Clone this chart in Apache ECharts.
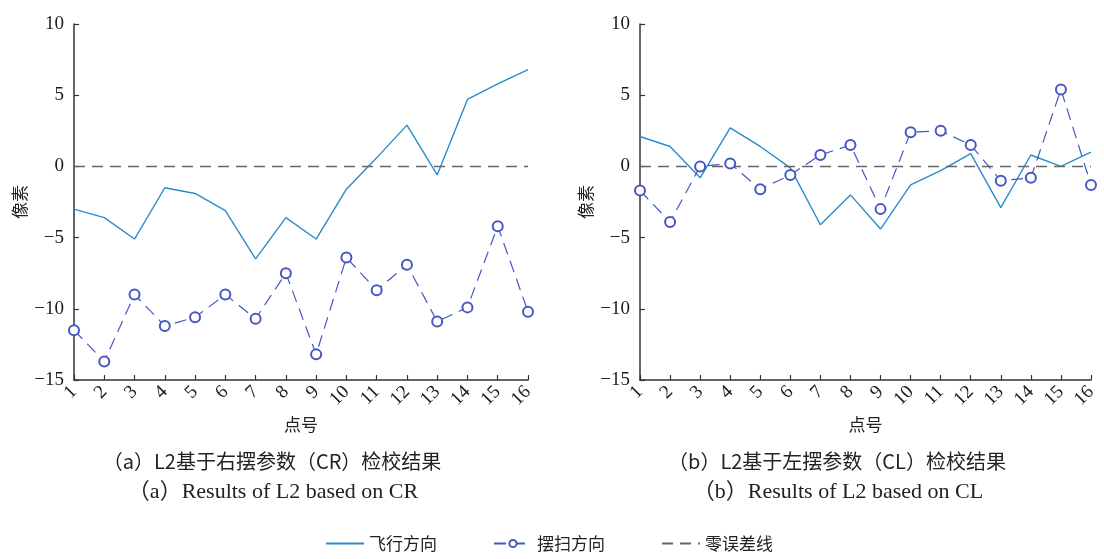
<!DOCTYPE html>
<html>
<head>
<meta charset="utf-8">
<script src="https://cdn.jsdelivr.net/npm/echarts@6/dist/echarts.min.js"></script>
<style>
  html, body { margin: 0; padding: 0; background: #fff; }
  #main { width: 1104px; height: 559px; }
</style>
</head>
<body>
<div id="main"></div>
<script>
// 点号
var pointLabels = ['1', '2', '3', '4', '5', '6', '7', '8', '9', '10', '11', '12', '13', '14', '15', '16'];
// (a) 右摆参数 CR
var flightCR = [-3.0, -3.6, -5.1, -1.5, -1.9, -3.1, -6.5, -3.6, -5.1, -1.6, 0.6, 2.9, -0.6, 4.7, 5.8, 6.8];
var swingCR = [-11.5, -13.7, -9.0, -11.2, -10.6, -9.0, -10.7, -7.5, -13.2, -6.4, -8.7, -6.9, -10.9, -9.9, -4.2, -10.2];
// (b) 左摆参数 CL
var flightCL = [2.1, 1.4, -0.8, 2.7, 1.4, -0.1, -4.1, -2.0, -4.4, -1.3, -0.3, 0.9, -2.9, 0.8, 0.0, 1.0];
var swingCL = [-1.7, -3.9, 0.0, 0.2, -1.6, -0.6, 0.8, 1.5, -3.0, 2.4, 2.5, 1.5, -1.0, -0.8, 5.4, -1.3];
// 零误差线
var zeroLine = [0, 0, 0, 0, 0, 0, 0, 0, 0, 0, 0, 0, 0, 0, 0, 0];

var serifFont = "'Liberation Serif', 'Times New Roman', 'Noto Sans CJK SC', serif";
var cjkFont = "'Noto Sans CJK SC', sans-serif";
var flightColor = '#2b8ccb';
var swingColor = '#4756c4';
var zeroColor = '#666666';

var chart = echarts.init(document.getElementById('main'));

function makeXAxis(idx) {
    return {
        type: 'category',
        gridIndex: idx,
        data: pointLabels,
        boundaryGap: false,
        name: '点号',
        nameLocation: 'middle',
        nameGap: 36,
        nameTextStyle: { fontFamily: cjkFont, fontSize: 17, color: '#222' },
        axisLine: { onZero: false, lineStyle: { color: '#333', width: 1.5 } },
        axisTick: { inside: true, length: 5, interval: 0, lineStyle: { color: '#333', width: 1.2 } },
        axisLabel: { interval: 0, rotate: 45, fontFamily: serifFont, fontSize: 19, color: '#1a1a1a', margin: 9 },
        splitLine: { show: false }
    };
}

function makeYAxis(idx) {
    return {
        type: 'value',
        gridIndex: idx,
        min: -15,
        max: 10,
        interval: 5,
        name: '像素',
        nameLocation: 'middle',
        nameGap: 46,
        nameTextStyle: { fontFamily: cjkFont, fontSize: 17, color: '#222' },
        axisLine: { show: true, lineStyle: { color: '#333', width: 1.5 } },
        axisTick: { show: true, inside: true, length: 5, lineStyle: { color: '#333', width: 1.2 } },
        axisLabel: {
            fontFamily: serifFont, fontSize: 19, color: '#1a1a1a', margin: 10,
            formatter: function (v) { return String(v).replace('-', '\u2212'); }
        },
        splitLine: { show: false }
    };
}

function makeSeries(idx, flight, swing) {
    return [
        {
            name: '飞行方向', type: 'line', xAxisIndex: idx, yAxisIndex: idx,
            data: flight, symbol: 'none',
            lineStyle: { color: flightColor, width: 1.4 },
            itemStyle: { color: flightColor }
        },
        {
            name: '摆扫方向', type: 'line', xAxisIndex: idx, yAxisIndex: idx,
            data: swing, symbol: 'emptyCircle', symbolSize: 10,
            lineStyle: { color: swingColor, width: 1.2, type: [12, 7] },
            itemStyle: { color: swingColor, borderWidth: 1.1 }
        },
        {
            name: '零误差线', type: 'line', xAxisIndex: idx, yAxisIndex: idx,
            data: zeroLine, symbol: 'none',
            lineStyle: { color: zeroColor, width: 1.5, type: [11, 7] },
            itemStyle: { color: zeroColor }
        }
    ];
}

var option = {
    animation: false,
    backgroundColor: '#fff',
    grid: [
        { left: 74, top: 24, width: 454, height: 356 },
        { left: 640, top: 24, width: 451, height: 356 }
    ],
    xAxis: [makeXAxis(0), makeXAxis(1)],
    yAxis: [makeYAxis(0), makeYAxis(1)],
    legend: {
        data: [
            { name: '飞行方向', itemStyle: { opacity: 0 } },
            { name: '摆扫方向' },
            { name: '零误差线', itemStyle: { opacity: 0 } }
        ],
        left: 320,
        bottom: 2,
        itemWidth: 38,
        itemHeight: 9,
        itemGap: 56,
        textStyle: { fontFamily: cjkFont, fontSize: 17, color: '#222' }
    },
    series: makeSeries(0, flightCR, swingCR).concat(makeSeries(1, flightCL, swingCL)),
    graphic: [
        { type: 'text', x: 272, y: 451, style: { text: '（a）L2基于右摆参数（CR）检校结果', textAlign: 'center', font: '20px ' + cjkFont, fill: '#222' } },
        { type: 'text', x: 273, y: 481, style: { text: '（a）Results of L2 based on CR', textAlign: 'center', font: '22px ' + serifFont, fill: '#222' } },
        { type: 'text', x: 837, y: 451, style: { text: '（b）L2基于左摆参数（CL）检校结果', textAlign: 'center', font: '20px ' + cjkFont, fill: '#222' } },
        { type: 'text', x: 838, y: 481, style: { text: '（b）Results of L2 based on CL', textAlign: 'center', font: '22px ' + serifFont, fill: '#222' } }
    ]
};

chart.setOption(option);

window.addEventListener('resize', function () {
    chart.resize();
});
</script>
</body>
</html>
